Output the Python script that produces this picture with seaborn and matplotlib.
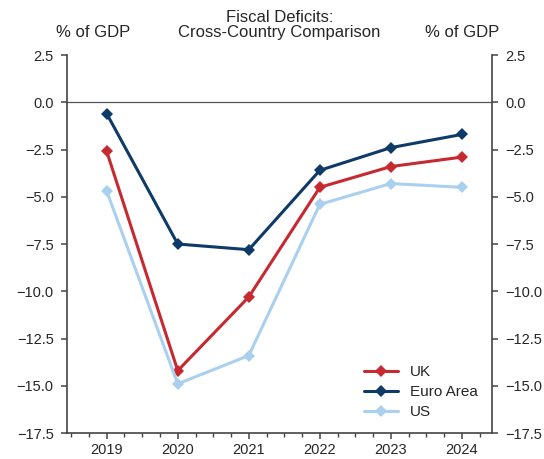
import seaborn as sns
import matplotlib.pyplot as plt
import pandas as pd
from matplotlib.ticker import MultipleLocator

years = [2019, 2020, 2021, 2022, 2023, 2024]
uk = [-2.6, -14.2, -10.3, -4.5, -3.4, -2.9]
euro_area = [-0.6, -7.5, -7.8, -3.6, -2.4, -1.7]
us = [-4.7, -14.9, -13.4, -5.4, -4.3, -4.5]

series = ["UK", "Euro Area", "US"]
colors = ["#c62a30", "#0d3a66", "#a9d0ef"]

df = pd.DataFrame({
    "year": years * 3,
    "value": uk + euro_area + us,
    "country": ["UK"] * 6 + ["Euro Area"] * 6 + ["US"] * 6,
})

sns.set_style("ticks")
plt.rcParams["font.family"] = ["Liberation Sans", "DejaVu Sans"]

fig = plt.figure(figsize=(5.44, 4.59), dpi=100)
ax = fig.add_axes([0.123, 0.0566, 0.781, 0.8235])

sns.lineplot(data=df, x="year", y="value", hue="country", hue_order=series,
             palette=colors, marker="D", markersize=6.5, linewidth=2.2,
             markeredgewidth=0, ax=ax)

ax.axhline(0, color="#555555", linewidth=0.9, zorder=0)

ax.set_xlim(2018.44, 2024.42)
ax.set_ylim(-17.5, 2.5)
ax.set_xticks(years)
ax.xaxis.set_minor_locator(MultipleLocator(0.25))
ax.yaxis.set_major_locator(MultipleLocator(2.5))
ax.yaxis.set_major_formatter(plt.FuncFormatter(lambda v, p: f"{v:.1f}".replace("-", "\u2212")))
ax.set_xlabel("")
ax.set_ylabel("")

for s in ["left", "right", "bottom"]:
    ax.spines[s].set_color("#444444")
    ax.spines[s].set_linewidth(1.2)
ax.spines["top"].set_visible(False)
ax.tick_params(axis="both", labelsize=10.5, color="#444444", length=4.5, width=1.1, pad=5)
ax.tick_params(axis="x", which="major", pad=2.5)
ax.tick_params(axis="x", which="minor", length=3, width=1, color="#444444")
ax.tick_params(axis="y", right=True, labelright=True)

ax.text(0.061, 1.04, "% of GDP", transform=ax.transAxes, ha="center", va="bottom", fontsize=12)
ax.text(0.93, 1.04, "% of GDP", transform=ax.transAxes, ha="center", va="bottom", fontsize=12)
ax.text(0.5, 1.04, "Fiscal Deficits:\nCross-Country Comparison", transform=ax.transAxes,
        ha="center", va="bottom", fontsize=12, linespacing=1.0)

leg = ax.legend(loc="lower right", frameon=False, fontsize=11, handlelength=2.2,
                bbox_to_anchor=(1.0, 0.0), labelspacing=0.4)

fig.savefig("out.png", dpi=100)
